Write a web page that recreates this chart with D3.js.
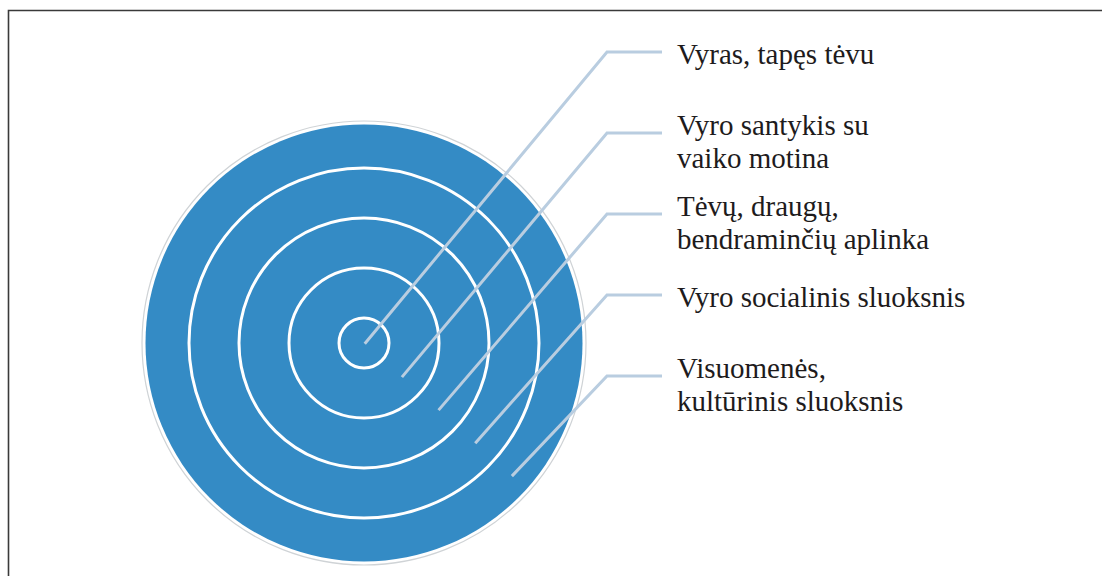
<!DOCTYPE html>
<html>
<head>
<meta charset="utf-8">
<script src="https://cdn.jsdelivr.net/npm/d3@7"></script>
<style>
  html, body { margin: 0; padding: 0; background: #fff; }
  svg { display: block; }
</style>
</head>
<body>
<div id="chart"></div>
<script>
// layers from the centre outwards
var labels = [
  ["Vyras, tapęs tėvu"],
  ["Vyro santykis su", "vaiko motina"],
  ["Tėvų, draugų,", "bendraminčių aplinka"],
  ["Vyro socialinis sluoksnis"],
  ["Visuomenės,", "kultūrinis sluoksnis"]
];
var rings = [1, 2, 3, 4];   // white boundaries between layers

var width = 1102, height = 576;
var cx = 364, cy = 343;

var svg = d3.select("#chart")
  .append("svg")
    .attr("width", width)
    .attr("height", height);

// frame (top and left only)
svg.append("path")
  .attr("d", "M8.5,576 V10.5 H1102")
  .attr("fill", "none")
  .attr("stroke", "#3a3a3a")
  .attr("stroke-width", 1.6);

// boundary index -> radius
var ringR = d3.scaleLinear().domain([1, 4]).range([25, 175]);
var outerR = 218.5;

var g = svg.append("g")
  .attr("transform", "translate(" + cx + "," + cy + ")");

g.append("circle")
  .attr("r", outerR + 3.5)
  .attr("fill", "none")
  .attr("stroke", "#cfd3d6")
  .attr("stroke-width", 1.2);

g.append("circle")
  .attr("r", outerR)
  .attr("fill", "#348bc5");

g.selectAll(".ring")
  .data(rings)
  .enter()
  .append("circle")
    .attr("class", "ring")
    .attr("r", function(d){ return ringR(d); })
    .attr("fill", "none")
    .attr("stroke", "#fff")
    .attr("stroke-width", 3);

// leader lines: start in the middle of each layer, elbow at the label
var mid = d3.scaleLinear().domain([0, 1, 4]).range([1, 51, 199]);
var elbowY = d3.scalePoint()
  .domain(d3.range(labels.length))
  .range([52, 376]);
var ang = 42 * Math.PI / 180;
var elbowX = 607, endX = 662, textX = 677, lineH = 33;

svg.selectAll(".leader")
  .data(labels)
  .enter()
  .append("polyline")
    .attr("class", "leader")
    .attr("points", function(d, i){
      var x0 = cx + mid(i) * Math.cos(ang),
          y0 = cy + mid(i) * Math.sin(ang);
      return [[x0, y0], [elbowX, elbowY(i)], [endX, elbowY(i)]].join(" ");
    })
    .attr("fill", "none")
    .attr("stroke", "#b9cde0")
    .attr("stroke-width", 3);

var txt = svg.selectAll(".label")
  .data(labels)
  .enter()
  .append("text")
    .attr("class", "label")
    .attr("x", textX)
    .attr("y", function(d, i){ return elbowY(i) + 12 - (d.length - 1) * 10; })
    .attr("font-family", "'Liberation Serif', 'Times New Roman', serif")
    .attr("font-size", 29)
    .attr("fill", "#1e1b1c");

txt.selectAll("tspan")
  .data(function(d){ return d; })
  .enter()
  .append("tspan")
    .attr("x", textX)
    .attr("dy", function(d, j){ return j == 0 ? 0 : lineH; })
    .text(function(d){ return d; });
</script>
</body>
</html>
